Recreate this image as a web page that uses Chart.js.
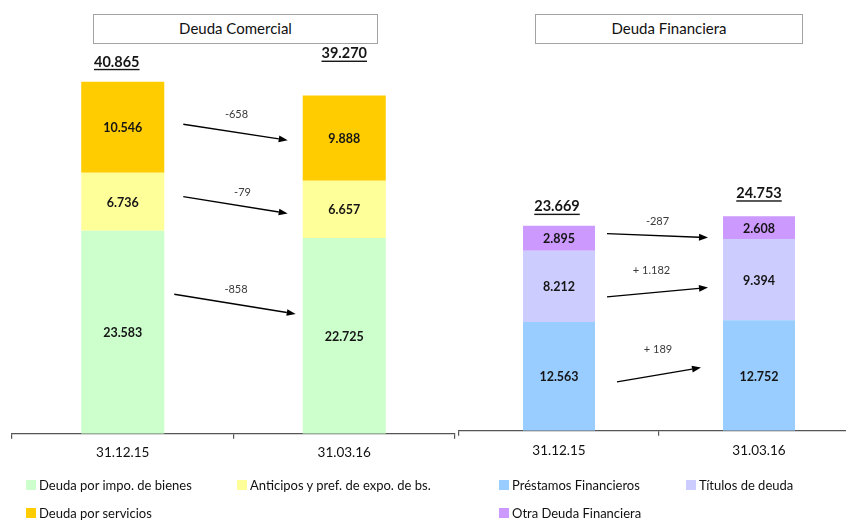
<!DOCTYPE html>
<html>
<head>
<meta charset="utf-8">
<script src="https://cdn.jsdelivr.net/npm/chart.js@4.4.1/dist/chart.umd.min.js"></script>
<style>
  html, body { margin: 0; padding: 0; background: #fff; }
  #wrap { position: relative; width: 846px; height: 520px; overflow: hidden; font-family: Lato, "Open Sans", sans-serif; color: #111; }
  canvas { position: absolute; top: 0; }
  .title { position: absolute; top: 14px; height: 30px; box-sizing: border-box; border: 1.5px solid #a3a3a3;
           font-size: 15px; line-height: 27px; text-align: center; color: #111; background: #fff; }
  .legend { position: absolute; display: grid; row-gap: 10px; font-size: 13px; color: #111; }
  .item { display: flex; align-items: center; height: 18px; white-space: nowrap; }
  .sw { display: inline-block; width: 10px; height: 10px; margin-right: 3px; }
</style>
</head>
<body>
<div id="wrap">
  <canvas id="comercial" width="458" height="520" style="left:0"></canvas>
  <canvas id="financiera" width="410" height="520" style="left:458px"></canvas>
  <div class="title" style="left:93px;width:285px">Deuda Comercial</div>
  <div class="title" style="left:535px;width:268px">Deuda Financiera</div>
  <div class="legend" id="legComercial" style="left:26px;top:476px;grid-template-columns:211px 220px"></div>
  <div class="legend" id="legFinanciera" style="left:499px;top:476px;grid-template-columns:187px 150px"></div>
</div>
<script>
// ---- Deuda Comercial ----
const commercialDates = ['31.12.15', '31.03.16'];
const commercialSeries = ['Deuda por impo. de bienes', 'Anticipos y pref. de expo. de bs.', 'Deuda por servicios'];
const importDebt = [23583, 22725];
const exportAdvances = [6736, 6657];
const servicesDebt = [10546, 9888];
const commercialTotals = [40865, 39270];

// ---- Deuda Financiera ----
const financialDates = ['31.12.15', '31.03.16'];
const financialSeries = ['Préstamos Financieros', 'Títulos de deuda', 'Otra Deuda Financiera'];
const loans = [12563, 12752];
const debtSecurities = [8212, 9394];
const otherFinancialDebt = [2895, 2608];
const financialTotals = [23669, 24753];

const commercialColors = ['#CCFFCC', '#FFFF99', '#FFCC00'];
const financialColors = ['#99CCFF', '#CCCCFF', '#CC99FF'];
const FONT = 'Lato, "Open Sans", sans-serif';

function thousands(n) {
  return String(Math.abs(n)).replace(/\B(?=(\d{3})+(?!\d))/g, '.');
}
function deltaText(n) {
  return n < 0 ? '-' + thousands(n) : '+ ' + thousands(n);
}

// Annotation layout per panel: arrow end nudges (px) and label offsets
function annotations(totals, arrowLayout, totalLayout) {
  return {
    id: 'annotations',
    afterDatasetsDraw(chart) {
      const ctx = chart.ctx;
      const sets = chart.data.datasets;
      const metas = sets.map((d, i) => chart.getDatasetMeta(i));
      ctx.save();

      // value inside each segment
      ctx.font = 'bold 12.5px ' + FONT;
      ctx.textAlign = 'center';
      ctx.textBaseline = 'middle';
      ctx.fillStyle = '#151515';
      metas.forEach((m, di) => m.data.forEach((bar, i) => {
        ctx.fillText(thousands(sets[di].data[i]), bar.x, (bar.y + bar.base) / 2 + 1);
      }));

      // underlined totals above each stack
      ctx.font = 'bold 14.5px ' + FONT;
      const topMeta = metas[metas.length - 1];
      topMeta.data.forEach((bar, i) => {
        const t = thousands(totals[i]);
        const x = bar.x + totalLayout[i].dx;
        const y = bar.y - totalLayout[i].lift;
        ctx.fillText(t, x, y);
        const w = ctx.measureText(t).width;
        ctx.fillRect(x - w / 2, y + 7, w, 1.4);
      });

      // change arrows between the two dates
      metas.forEach((m, di) => {
        const a = arrowLayout[di];
        const b0 = m.data[0], b1 = m.data[1];
        const x0 = b0.x + b0.width / 2 + a.dx0;
        const y0 = (b0.y + b0.base) / 2 + a.dy0;
        const x1 = b1.x - b1.width / 2 - a.dx1;
        const y1 = (b1.y + b1.base) / 2 + a.dy1;
        const ang = Math.atan2(y1 - y0, x1 - x0);
        const hl = 9, hw = 3.4;
        ctx.strokeStyle = '#000';
        ctx.fillStyle = '#000';
        ctx.lineWidth = 1.3;
        ctx.beginPath();
        ctx.moveTo(x0, y0);
        ctx.lineTo(x1 - hl * Math.cos(ang), y1 - hl * Math.sin(ang));
        ctx.stroke();
        ctx.beginPath();
        ctx.moveTo(x1, y1);
        ctx.lineTo(x1 - hl * Math.cos(ang) + hw * Math.sin(ang), y1 - hl * Math.sin(ang) - hw * Math.cos(ang));
        ctx.lineTo(x1 - hl * Math.cos(ang) - hw * Math.sin(ang), y1 - hl * Math.sin(ang) + hw * Math.cos(ang));
        ctx.closePath();
        ctx.fill();

        const d = sets[di].data[1] - sets[di].data[0];
        ctx.font = '11px ' + FONT;
        ctx.fillStyle = '#3a3a3a';
        ctx.fillText(deltaText(d), (x0 + x1) / 2 + a.ldx, (y0 + y1) / 2 - a.lift);
      });
      ctx.restore();
    }
  };
}

function makeChart(id, dates, series, values, colors, opts) {
  return new Chart(document.getElementById(id), {
    type: 'bar',
    data: {
      labels: dates,
      datasets: values.map((v, i) => ({
        label: series[i],
        data: v,
        backgroundColor: colors[i],
        borderWidth: 0,
        barPercentage: opts.barPct,
        categoryPercentage: 1
      }))
    },
    options: {
      responsive: false,
      animation: false,
      events: [],
      layout: { padding: opts.padding },
      plugins: { legend: { display: false }, tooltip: { enabled: false } },
      scales: {
        x: {
          stacked: true,
          offset: true,
          grid: { display: true, offset: true, drawOnChartArea: false, drawTicks: true, tickLength: 5, color: '#555', lineWidth: 1.2 },
          border: { display: true, color: '#555', width: 1.3 },
          ticks: { color: '#111', font: { family: FONT, size: 13.5 }, padding: opts.tickPad }
        },
        y: { stacked: true, display: false, min: 0, max: opts.max }
      }
    },
    plugins: [annotations(opts.totals, opts.arrows, opts.totalLayout)]
  });
}

makeChart('comercial', commercialDates, commercialSeries,
  [importDebt, exportAdvances, servicesDebt], commercialColors, {
    barPct: 0.375,
    padding: { left: 12, right: 3, top: 29, bottom: 53 },
    tickPad: 6,
    max: 47000,
    totals: commercialTotals,
    totalLayout: [{ dx: -6, lift: 20 }, { dx: 0, lift: 42 }],
    arrows: [
      { dx0: 10, dy0: -38, dx1: 7, dy1: -22, ldx: 1, lift: 15 },
      { dx0: 19, dy0: -5, dx1: 15, dy1: 4, ldx: 7, lift: 13 },
      { dx0: 19, dy0: -3, dx1: 15, dy1: 2, ldx: 1, lift: 18 }
    ]
  });

makeChart('financiera', financialDates, financialSeries,
  [loans, debtSecurities, otherFinancialDebt], financialColors, {
    barPct: 0.36,
    padding: { left: 1, right: 9, top: 23.5, bottom: 54 },
    tickPad: 7,
    max: 47000,
    totals: financialTotals,
    totalLayout: [{ dx: -2, lift: 19 }, { dx: 0, lift: 23 }],
    arrows: [
      { dx0: 22, dy0: 5.5, dx1: 22, dy1: -8, ldx: -1, lift: 25 },
      { dx0: 12, dy0: 10.5, dx1: 15, dy1: 8, ldx: -6, lift: 22 },
      { dx0: 12, dy0: -4.5, dx1: 15, dy1: 10, ldx: 0, lift: 14 }
    ]
  });

// HTML legends built from the series names
function buildLegend(id, series, colors) {
  const el = document.getElementById(id);
  series.forEach((s, i) => {
    const item = document.createElement('div');
    item.className = 'item';
    const sw = document.createElement('span');
    sw.className = 'sw';
    sw.style.background = colors[i];
    item.appendChild(sw);
    item.appendChild(document.createTextNode(s));
    el.appendChild(item);
  });
}
buildLegend('legComercial', commercialSeries, commercialColors);
buildLegend('legFinanciera', financialSeries, financialColors);
</script>
</body>
</html>
